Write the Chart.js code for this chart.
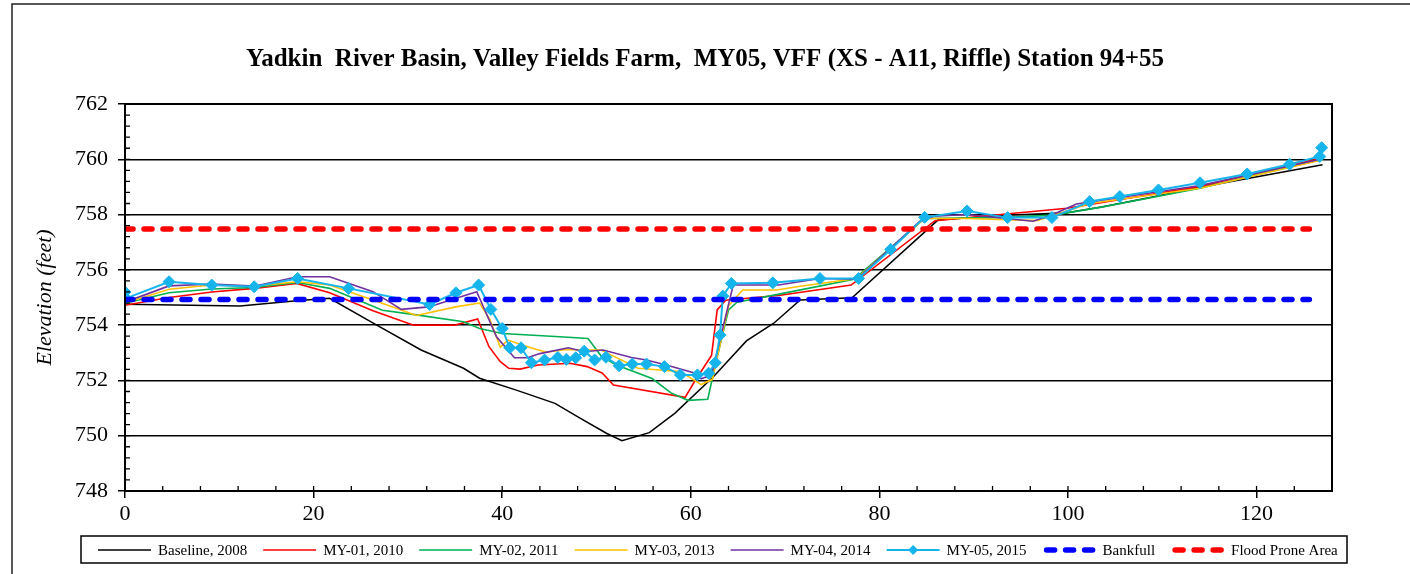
<!DOCTYPE html>
<html lang="en">
<head>
<meta charset="UTF-8">
<title>Yadkin River Basin - VFF XS A11 Riffle</title>
<script src="https://cdn.jsdelivr.net/npm/chart.js"></script>
<style>
  html, body { margin: 0; padding: 0; background: #fff; }
  #wrap { width: 1410px; height: 574px; position: relative; }
</style>
</head>
<body>
<div id="wrap"><canvas id="xsChart"></canvas></div>
<script>
// cross-section surveys: station (ft) and elevation (ft)
const baselineSta  = [0, 12.2, 18.2, 21.7, 26.7, 31.4, 35.9, 37.6, 41.5, 45.6, 48.3, 51.1, 52.7, 55.6, 58.3, 62.4, 65.9, 68.8, 71.6, 77.1, 86.2, 93.5, 99.9, 103.7, 108.7, 114.0, 127.0];
const baselineElev = [754.76, 754.69, 754.88, 754.97, 754.0, 753.1, 752.44, 752.08, 751.65, 751.17, 750.63, 750.08, 749.82, 750.11, 750.81, 752.13, 753.43, 754.07, 754.91, 754.99, 757.8, 757.98, 758.07, 758.28, 758.62, 758.99, 759.8];

const my01Sta  = [0, 4.67, 9.2, 13.7, 18.2, 21.7, 26.3, 30.6, 35.0, 37.4, 38.6, 39.8, 40.7, 41.9, 43.8, 47.2, 49.0, 50.6, 51.8, 59.4, 60.4, 62.2, 62.8, 63.7, 69.5, 77.0, 85.9, 99.9, 114.0, 127.0];
const my01Elev = [754.72, 755.0, 755.2, 755.33, 755.51, 755.17, 754.52, 754.0, 754.0, 754.22, 753.22, 752.68, 752.44, 752.41, 752.56, 752.62, 752.5, 752.27, 751.83, 751.39, 751.96, 752.9, 754.55, 754.9, 755.08, 755.45, 757.78, 758.23, 759.02, 760.05];

const my02Sta  = [0, 4.67, 9.2, 13.7, 18.3, 21.7, 27.3, 30.9, 35.9, 37.6, 40.0, 46.1, 49.1, 50.5, 52.1, 55.9, 57.9, 59.7, 61.8, 62.6, 64.0, 64.9, 69.5, 77.3, 84.8, 93.6, 98.4, 103.4, 114.0, 127.0];
const my02Elev = [754.79, 755.17, 755.31, 755.36, 755.54, 755.33, 754.54, 754.37, 754.12, 753.88, 753.7, 753.58, 753.52, 752.88, 752.56, 752.07, 751.55, 751.28, 751.32, 752.56, 754.55, 754.83, 755.13, 755.66, 757.86, 757.9, 757.98, 758.26, 758.95, 760.0];

const my03Sta  = [0, 4.67, 9.2, 13.7, 18.3, 21.7, 26.3, 30.9, 35.2, 37.6, 38.7, 39.8, 40.6, 43.1, 44.7, 46.8, 48.7, 50.5, 51.8, 54.4, 56.7, 58.9, 61.1, 62.3, 64.0, 65.5, 69.1, 71.6, 77.6, 84.8, 89.3, 96.7, 102.3, 114.0, 127.0];
const my03Elev = [754.8, 755.3, 755.45, 755.41, 755.57, 755.45, 754.91, 754.35, 754.67, 754.8, 754.2, 753.2, 753.46, 753.17, 753.02, 753.12, 753.1, 753.1, 752.88, 752.44, 752.38, 752.32, 751.85, 752.04, 754.7, 755.27, 755.27, 755.41, 755.69, 757.86, 757.86, 757.78, 758.4, 758.95, 759.98];

const my04Sta  = [0, 4.67, 9.2, 13.7, 18.3, 21.7, 26.3, 29.3, 32.2, 37.3, 39.4, 41.3, 42.7, 44.0, 47.0, 48.7, 50.7, 53.7, 55.3, 57.4, 60.2, 61.1, 62.2, 64.5, 69.3, 73.7, 77.6, 84.3, 85.8, 89.3, 96.3, 98.4, 100.9, 114.0, 127.0];
const my04Elev = [754.83, 755.42, 755.49, 755.41, 755.75, 755.75, 755.21, 754.57, 754.66, 755.21, 753.58, 752.82, 752.82, 752.97, 753.18, 753.04, 753.1, 752.83, 752.74, 752.56, 752.29, 752.06, 752.2, 755.45, 755.45, 755.69, 755.66, 757.76, 757.94, 758.0, 757.76, 758.0, 758.38, 759.05, 760.02];

const my05Sta  = [0, 0.1, 4.67, 9.2, 13.7, 18.3, 23.7, 32.3, 35.1, 37.5, 38.8, 40.0, 40.8, 42.0, 43.1, 44.5, 45.9, 46.8, 47.8, 48.7, 49.8, 51.0, 52.4, 53.8, 55.3, 57.2, 58.9, 60.7, 61.9, 62.6, 63.1, 63.4, 64.3, 68.7, 73.7, 77.8, 81.2, 84.8, 89.3, 93.6, 98.3, 102.3, 105.5, 109.6, 114.0, 119.0, 123.5, 126.7, 126.9];
const my05Elev = [755.2, 754.97, 755.57, 755.45, 755.39, 755.69, 755.33, 754.75, 755.17, 755.45, 754.57, 753.88, 753.18, 753.18, 752.64, 752.74, 752.83, 752.76, 752.82, 753.06, 752.74, 752.84, 752.53, 752.59, 752.59, 752.5, 752.2, 752.2, 752.26, 752.64, 753.64, 755.05, 755.51, 755.53, 755.69, 755.69, 756.74, 757.9, 758.13, 757.89, 757.89, 758.47, 758.65, 758.89, 759.15, 759.47, 759.82, 760.1, 760.42];

// horizontal reference levels
const levelSta = [0, 125.6];
const bankfullElev = 754.93;
const floodProneElev = 757.48;

const TITLE = 'Yadkin  River Basin, Valley Fields Farm,  MY05, VFF (XS - A11, Riffle) Station 94+55';
const serif = "'Liberation Serif', 'Times New Roman', serif";

const pts = (sta, elev) => sta.map((s, i) => ({ x: s, y: Array.isArray(elev) ? elev[i] : elev }));

const survey = (label, sta, elev, color, width, order) => ({
  label, data: pts(sta, elev), showLine: true,
  borderColor: color, backgroundColor: color, borderWidth: width,
  pointRadius: 0, pointHoverRadius: 0, tension: 0, order
});

const level = (label, elev, color, order) => ({
  label, data: pts(levelSta, elev), showLine: true,
  borderColor: color, backgroundColor: color, borderWidth: 5.5,
  borderDash: [8, 11], borderCapStyle: 'round',
  pointRadius: 0, pointHoverRadius: 0, tension: 0, order
});

const datasets = [
  survey('Baseline, 2008', baselineSta, baselineElev, '#000000', 1.5, 8),
  survey('MY-01, 2010', my01Sta, my01Elev, '#FF0000', 1.6, 7),
  survey('MY-02, 2011', my02Sta, my02Elev, '#00B050', 1.6, 6),
  survey('MY-03, 2013', my03Sta, my03Elev, '#FFC000', 1.6, 5),
  survey('MY-04, 2014', my04Sta, my04Elev, '#7030A0', 1.6, 4),
  Object.assign(survey('MY-05, 2015', my05Sta, my05Elev, '#16B4EC', 2, 3), {
    pointStyle: 'rectRot', pointRadius: 6, pointBorderWidth: 1,
    pointBackgroundColor: '#16B4EC', pointBorderColor: '#16B4EC'
  }),
  level('Bankfull', bankfullElev, '#0000FF', 2),
  level('Flood Prone Area', floodProneElev, '#FF0000', 1)
];

// page frame, title, minor ticks, plot box and boxed legend
const decor = {
  id: 'decor',
  beforeDraw(chart) {
    const ctx = chart.ctx;
    ctx.save();
    ctx.strokeStyle = '#222';
    ctx.lineWidth = 1.5;
    ctx.beginPath();
    ctx.moveTo(12, chart.height);
    ctx.lineTo(12, 4);
    ctx.lineTo(chart.width, 4);
    ctx.stroke();
    ctx.fillStyle = '#000';
    ctx.font = 'bold 25px ' + serif;
    ctx.textAlign = 'center';
    ctx.textBaseline = 'middle';
    ctx.fillText(TITLE, 705, 60);
    ctx.restore();
  },
  afterDraw(chart) {
    const { ctx, chartArea: a, scales: { x, y } } = chart;
    ctx.save();
    ctx.strokeStyle = '#000';
    ctx.lineWidth = 1.3;
    ctx.beginPath();
    for (let i = 0; i <= 35; i++) {
      const py = y.getPixelForValue(748 + i * 0.4);
      ctx.moveTo(a.left, py);
      ctx.lineTo(a.left + 5, py);
    }
    for (let i = 0; i <= 32; i++) {
      const px = x.getPixelForValue(i * 4);
      ctx.moveTo(px, a.bottom);
      ctx.lineTo(px, a.bottom - 5);
    }
    ctx.stroke();
    ctx.lineWidth = 2;
    ctx.strokeRect(a.left, a.top, a.right - a.left, a.bottom - a.top);

    // legend
    ctx.lineWidth = 1.5;
    ctx.strokeRect(81, 536, 1266, 27);
    ctx.font = '15px ' + serif;
    ctx.textBaseline = 'middle';
    ctx.textAlign = 'left';
    const ly = 550;
    let lx = 98;
    chart.data.datasets.forEach(ds => {
      ctx.save();
      ctx.strokeStyle = ds.borderColor;
      ctx.lineWidth = ds.borderWidth;
      ctx.setLineDash(ds.borderDash || []);
      ctx.lineCap = ds.borderCapStyle || 'butt';
      ctx.beginPath();
      if (ds.borderDash) {
        ctx.moveTo(lx + 4, ly);
        ctx.lineTo(lx + 50, ly);
      } else {
        ctx.moveTo(lx, ly);
        ctx.lineTo(lx + 53, ly);
      }
      ctx.stroke();
      if (ds.pointRadius > 0) {
        const r = 5, cx = lx + 26.5;
        ctx.setLineDash([]);
        ctx.fillStyle = ds.pointBackgroundColor;
        ctx.beginPath();
        ctx.moveTo(cx - r, ly);
        ctx.lineTo(cx, ly - r);
        ctx.lineTo(cx + r, ly);
        ctx.lineTo(cx, ly + r);
        ctx.closePath();
        ctx.fill();
      }
      ctx.restore();
      ctx.fillStyle = '#000';
      ctx.fillText(ds.label, lx + 60, ly + 1);
      lx += 60 + ctx.measureText(ds.label).width + 16;
    });
    ctx.restore();
  }
};

new Chart(document.getElementById('xsChart'), {
  type: 'scatter',
  data: { datasets },
  options: {
    responsive: true,
    maintainAspectRatio: false,
    animation: false,
    devicePixelRatio: 1,
    layout: { padding: { left: 13, top: 104, right: 78, bottom: 0 } },
    plugins: {
      legend: { display: false },
      title: { display: false },
      tooltip: { enabled: false }
    },
    scales: {
      x: {
        type: 'linear', min: 0, max: 128,
        afterFit: s => { s.height = 83; },
        ticks: { stepSize: 20, includeBounds: false, maxRotation: 0, color: '#000', padding: 3,
                 font: { family: serif, size: 22 } },
        grid: { drawOnChartArea: false, color: '#000', lineWidth: 1.5, tickLength: 7 },
        border: { color: '#000', width: 2 }
      },
      y: {
        min: 748, max: 762,
        afterFit: s => { s.width = 112; },
        ticks: { stepSize: 2, includeBounds: false, color: '#000', padding: 10,
                 font: { family: serif, size: 22 } },
        grid: { color: '#000', lineWidth: 1.5, tickLength: 7 },
        border: { color: '#000', width: 2 },
        title: {
          display: true, text: 'Elevation (feet)', color: '#000',
          font: { family: serif, size: 22, style: 'italic' },
          padding: { top: 19, bottom: 0 }
        }
      }
    }
  },
  plugins: [decor]
});
</script>
</body>
</html>
